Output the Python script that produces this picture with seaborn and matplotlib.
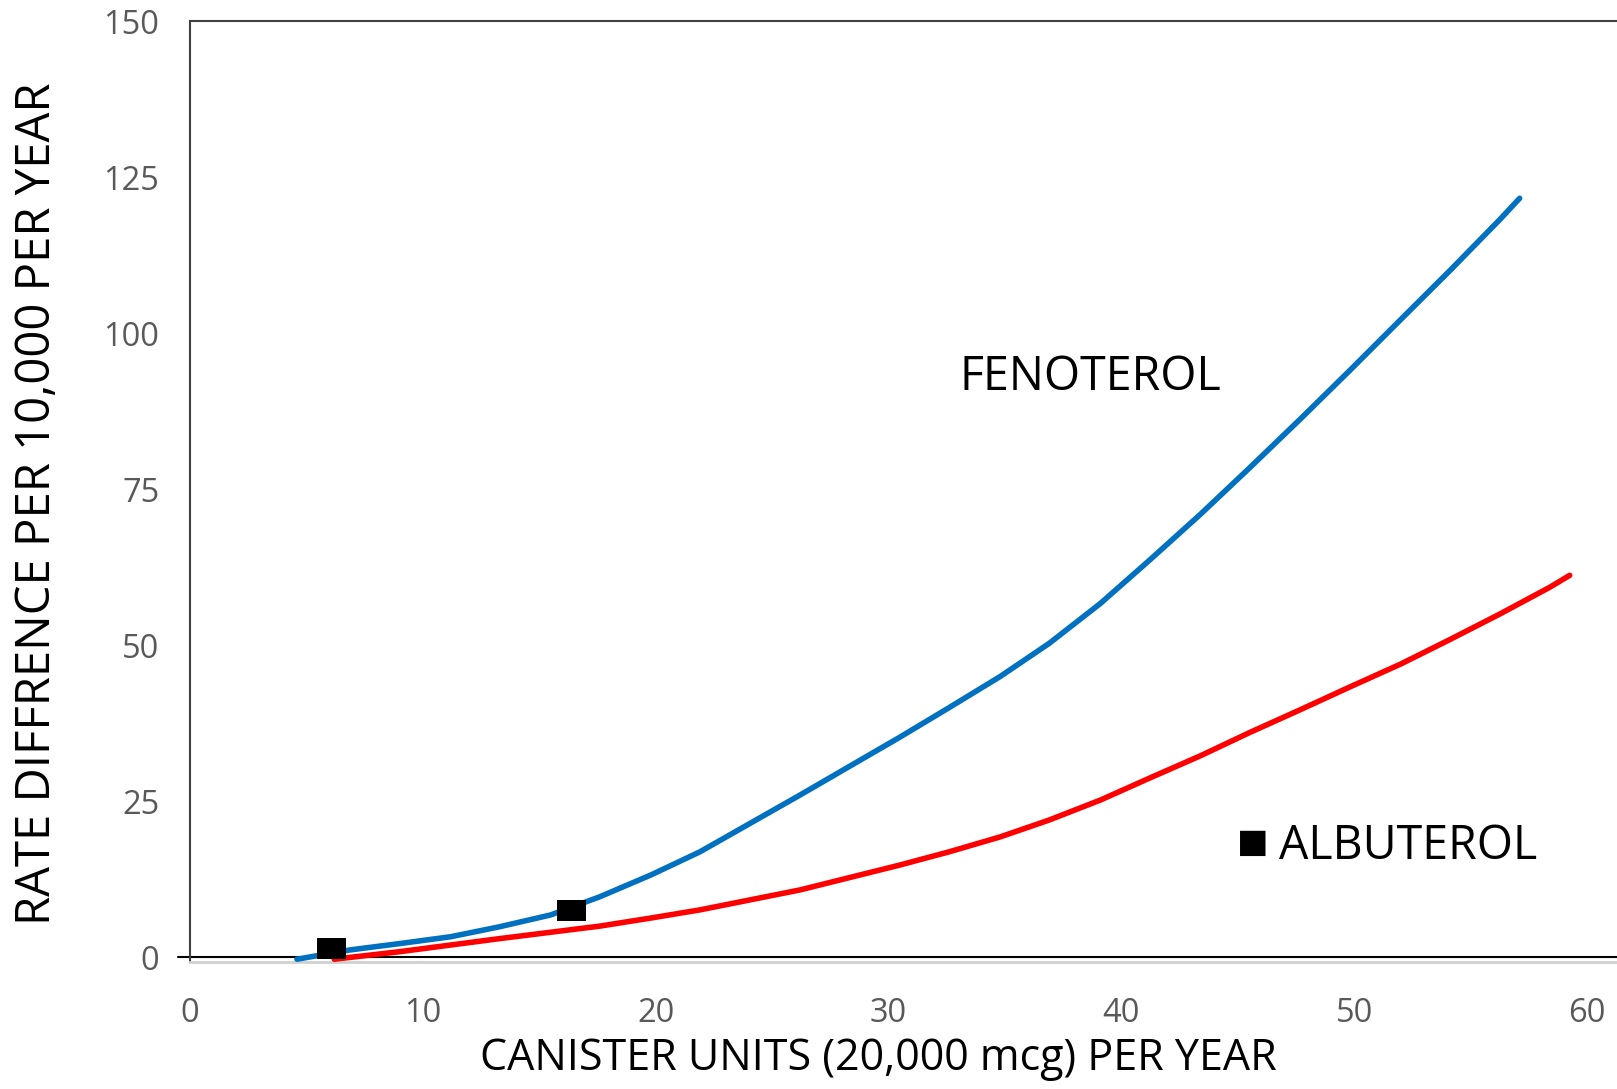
import matplotlib
matplotlib.use("Agg")
import matplotlib.pyplot as plt
import seaborn as sns
import pandas as pd

# ---- datos ----
fen_x = [4.6, 6.9, 9.0, 11.2, 13.3, 15.5, 17.6, 19.8, 21.9, 26.2, 30.5, 32.6,
         34.8, 36.9, 39.1, 41.2, 43.4, 45.5, 47.7, 49.8, 52.0, 54.1, 56.25, 57.1]
fen_y = [-0.3, 1.2, 2.2, 3.3, 4.9, 6.8, 9.7, 13.2, 16.9, 26.0, 35.3, 40.0,
         45.0, 50.3, 56.7, 63.6, 71.0, 78.4, 86.3, 94.0, 102.2, 110.0, 118.2, 121.6]

alb_x = [6.2, 9.0, 13.3, 17.6, 19.8, 21.9, 26.2, 30.5, 32.6, 34.8, 36.9, 39.1,
         41.2, 43.4, 45.5, 47.7, 49.8, 52.0, 54.1, 56.25, 58.4, 59.25]
alb_y = [-0.3, 0.9, 3.0, 5.0, 6.3, 7.6, 10.8, 14.8, 16.9, 19.3, 22.0, 25.2,
         28.7, 32.3, 36.0, 39.7, 43.3, 47.0, 50.9, 55.0, 59.3, 61.2]

punto_x = [6.1, 16.4]
punto_y = [1.45, 7.5]

x_ticks = [0, 10, 20, 30, 40, 50, 60]
y_ticks = [0, 25, 50, 75, 100, 125, 150]

sns.set_style("white")
plt.rcParams['font.family'] = ['Open Sans', 'DejaVu Sans']

fig = plt.figure(figsize=(16.17, 10.89), dpi=100)
ax = fig.add_axes([0.1174, 0.1166, 0.8826, 0.8641])

df_fen = pd.DataFrame({'x': fen_x, 'y': fen_y})
df_alb = pd.DataFrame({'x': alb_x, 'y': alb_y})
df_pts = pd.DataFrame({'x': punto_x, 'y': punto_y})

sns.lineplot(data=df_fen, x='x', y='y', color='#0070C0', linewidth=4.0,
             sort=False, estimator=None, ax=ax, zorder=3)
sns.lineplot(data=df_alb, x='x', y='y', color='#FF0000', linewidth=4.0,
             sort=False, estimator=None, ax=ax, zorder=3)

# marcadores rectangulares negros
rect = [(-1.4, -1), (1.4, -1), (1.4, 1), (-1.4, 1), (-1.4, -1)]
sns.scatterplot(data=df_pts, x='x', y='y', marker=rect, s=441, color='black',
                edgecolor='none', ax=ax, zorder=5)

# línea del cero
ax.axhline(0, xmin=-0.0085, xmax=1, color='black', linewidth=1.5, clip_on=False, zorder=2)

ax.set_xlim(0, 61.28)
ax.set_ylim(-0.75, 150)
ax.set_xticks(x_ticks)
ax.set_yticks(y_ticks)
ax.tick_params(axis='both', length=0, labelsize=23.5, labelcolor='#595959')
ax.tick_params(axis='y', pad=22)
ax.tick_params(axis='x', pad=25)

for lado in ['left', 'top']:
    ax.spines[lado].set_color('#404040')
    ax.spines[lado].set_linewidth(1.5)
ax.spines['bottom'].set_color('#D0D0D0')
ax.spines['bottom'].set_linewidth(2)
ax.spines['right'].set_visible(False)

ax.set_xlabel('CANISTER UNITS (20,000 mcg) PER YEAR', fontsize=31, color='black')
ax.set_ylabel('RATE DIFFRENCE PER 10,000 PER YEAR', fontsize=34, color='black')
ax.xaxis.set_label_coords(0.4825, -0.103)
ax.xaxis.label.set_va('center')
ax.yaxis.set_label_coords(-0.107, 0.487)
ax.yaxis.label.set_va('center')

ax.text(33.03, 90.9, 'FENOTEROL', fontsize=33.5, color='black', ha='left', va='baseline')
ax.text(44.95, 16.9, '■', fontsize=24, color='black', ha='left', va='baseline')
ax.text(46.77, 15.7, 'ALBUTEROL', fontsize=33.5, color='black', ha='left', va='baseline')

fig.savefig('out.png', dpi=100)
